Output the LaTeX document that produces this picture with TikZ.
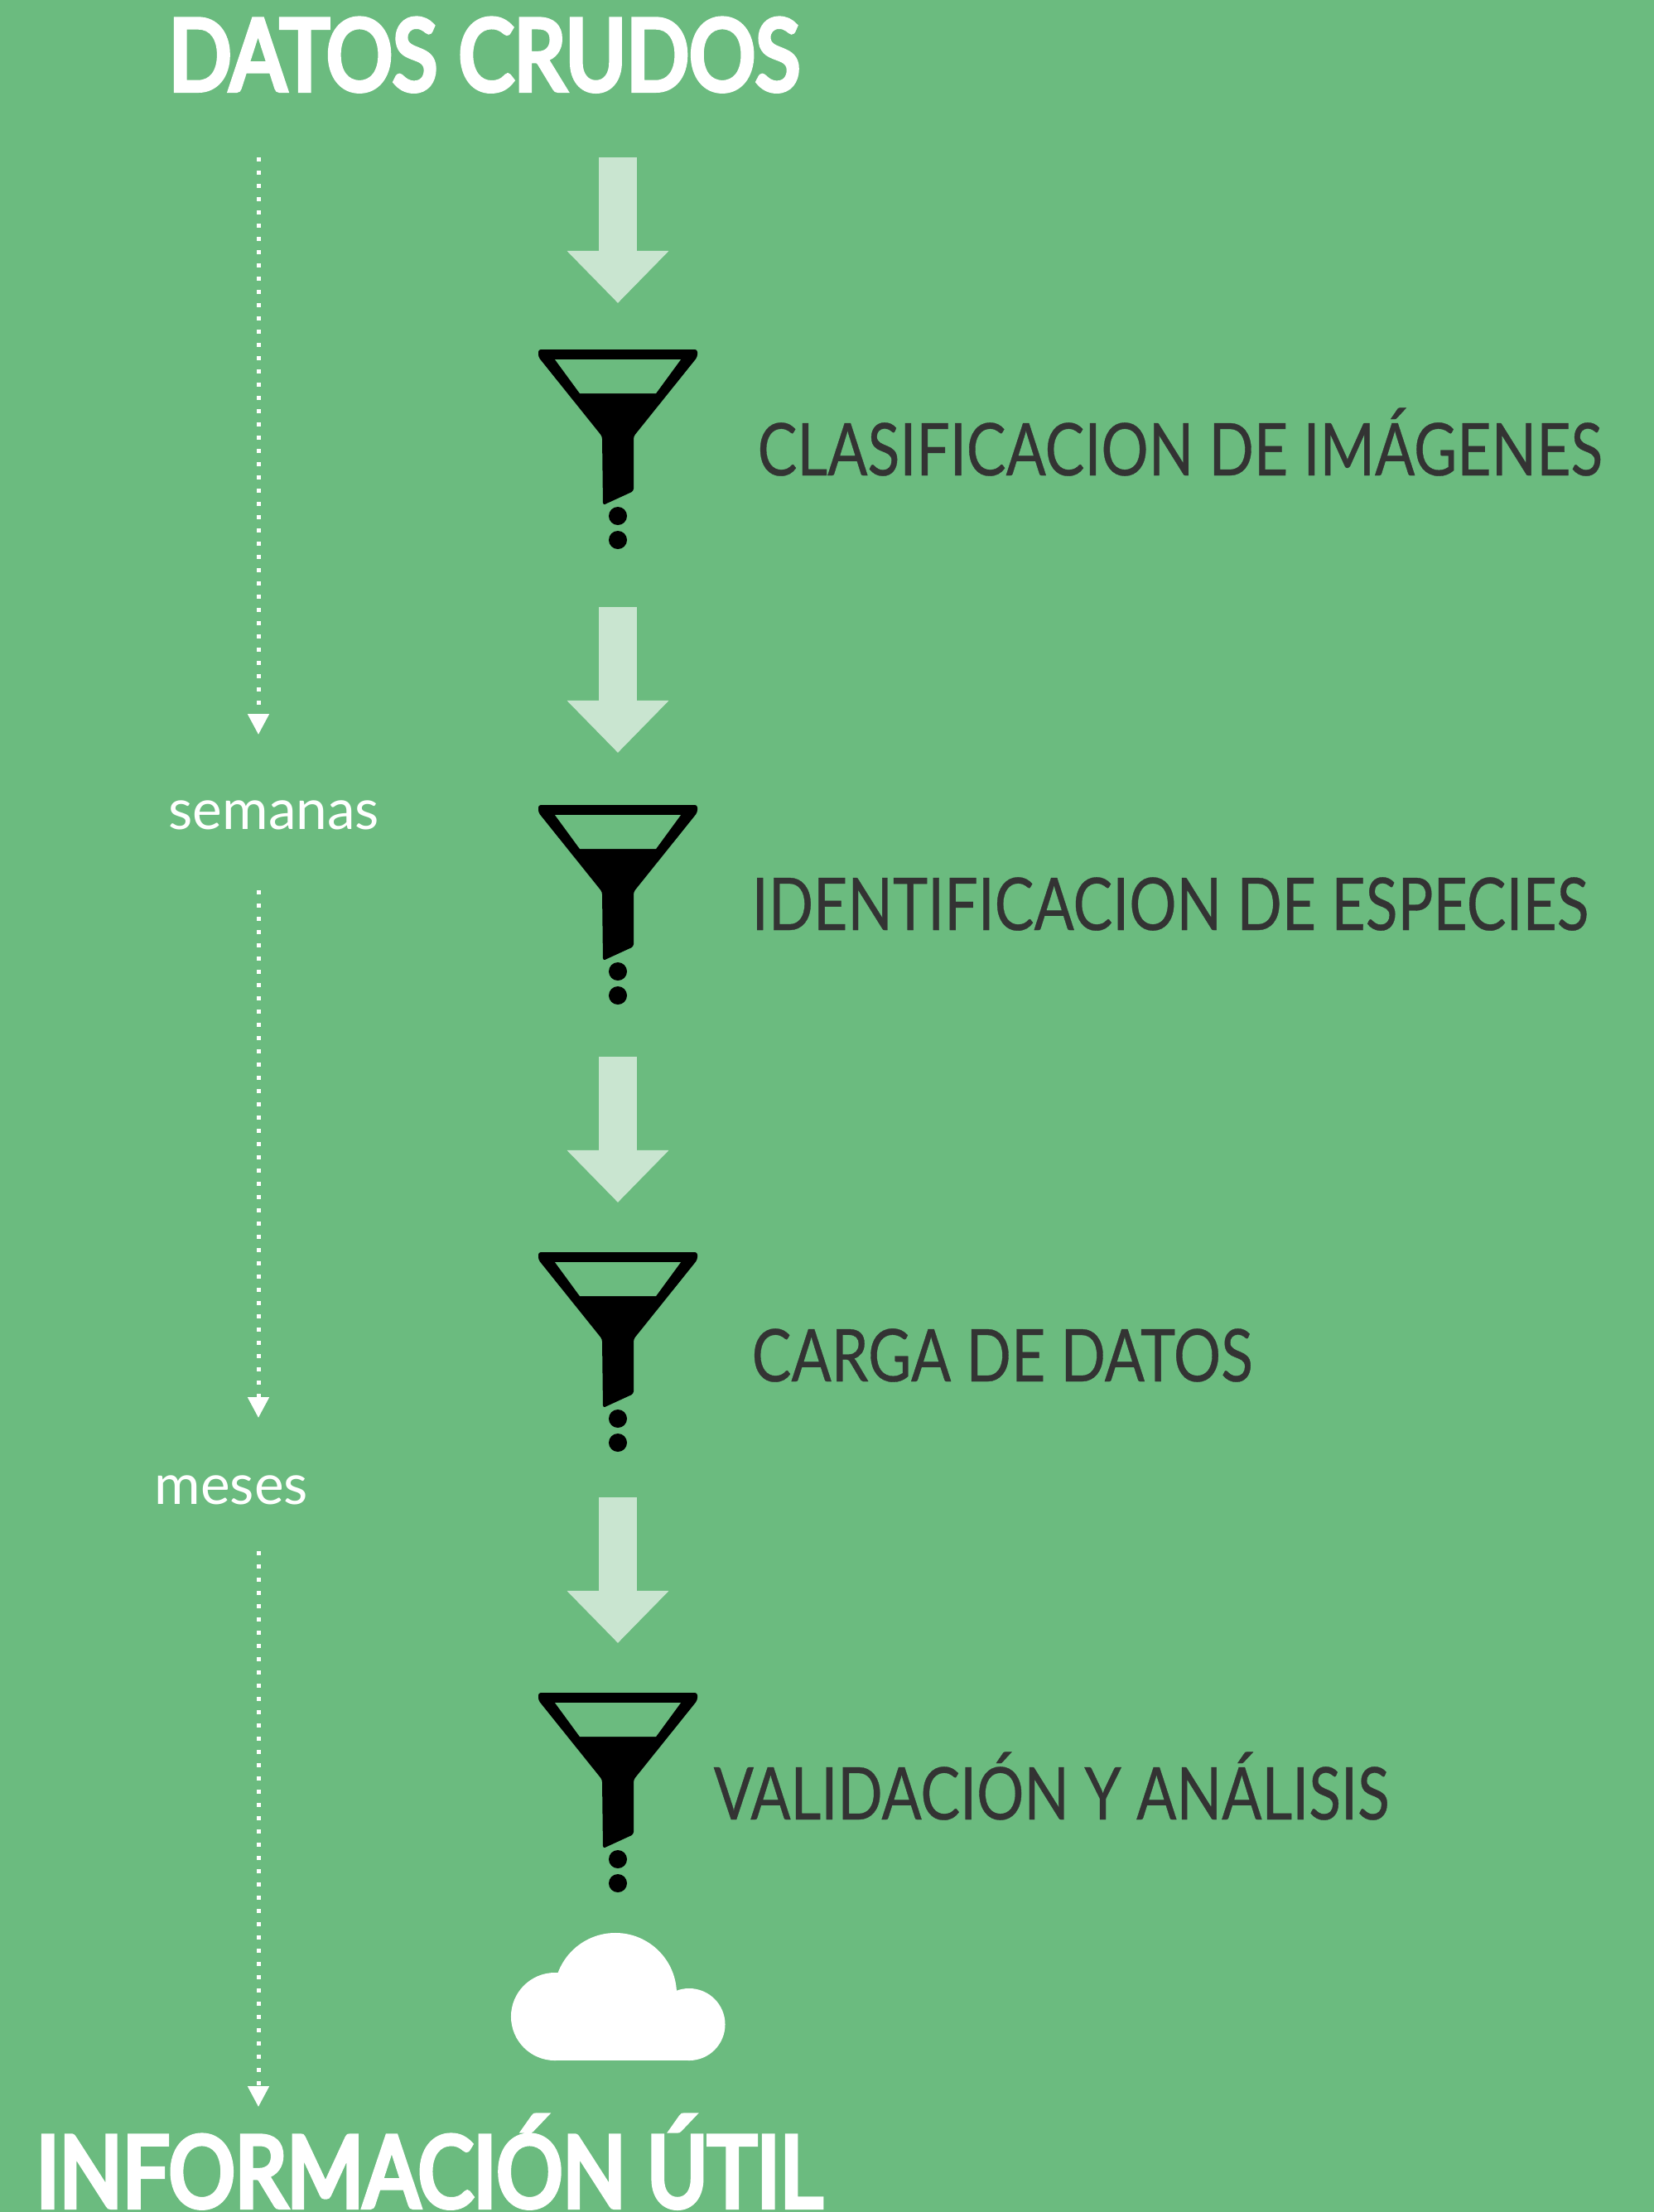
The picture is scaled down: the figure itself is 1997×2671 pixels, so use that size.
\documentclass[tikz,border=0pt]{standalone}
\usepackage{fontspec}
\setmainfont{Lato}
\newfontfamily\titlefont[FakeStretch=0.835, FakeBold=5]{Lato}
\newfontfamily\stepfont[FakeStretch=0.813, FakeBold=0.4]{Lato}
\usetikzlibrary{arrows.meta}
\definecolor{bggreen}{HTML}{6BBB7F}
\definecolor{arrowgreen}{HTML}{C9E5D0}
\definecolor{steptext}{HTML}{333333}
\begin{document}
\begin{tikzpicture}[x=0.01cm, y=-0.01cm, inner sep=0mm,
		titlestyle/.style={anchor=base west, text=white, font=\titlefont\fontsize{34}{34}\selectfont},
		stepstyle/.style={anchor=base west, text=steptext, font=\stepfont\fontsize{25}{25}\selectfont},
		timestyle/.style={anchor=base west, text=white, font=\fontsize{19.2}{19.2}\selectfont},
		flowstyle/.style={line width=0.45cm, arrowgreen, -{Triangle[width=1.19cm, length=0.63cm]}},
		timestylearrow/.style={line width=0.05cm, white, dash pattern=on 0.05cm off 0.11cm, -{Triangle[width=0.25cm, length=0.25cm]}},
		funnel/.pic={
			\fill [black, rounded corners=0.03cm]
				(-96,1) -- (96,1) -- (96,10) -- (19,106) -- (19,172) -- (-18,189) -- (-19,106) -- (-96,10) -- cycle;
			\fill [bggreen] (-76,13) -- (76,13) -- (46,54) -- (-46,54) -- cycle;
			\fill [black] (0,202) circle (0.11cm);
			\fill [black] (0,231) circle (0.11cm);
		}]

		\useasboundingbox [fill=bggreen] (0,0) rectangle (1997,2671);

		\node [titlestyle] (datos) at (203,109) {DATOS CRUDOS};
		\node [titlestyle] (info) at (43,2665) {INFORMACIÓN ÚTIL};

		\node [stepstyle] (clasif) at (914,574) {CLASIFICACION DE IMÁGENES};
		\node [stepstyle] (ident) at (907,1123) {IDENTIFICACION DE ESPECIES};
		\node [stepstyle] (carga) at (907,1668) {CARGA DE DATOS};
		\node [stepstyle] (valid) at (861,2197) {VALIDACIÓN Y ANÁLISIS};

		\node [timestyle] (semanas) at (203,1001) {semanas};
		\node [timestyle] (meses) at (186,1816) {meses};

		\pic at (746,421) {funnel};
		\pic at (746,971) {funnel};
		\pic at (746,1511) {funnel};
		\pic at (746,2043) {funnel};

		\coordinate (f1) at (746,190);
		\coordinate (f2) at (746,366);
		\coordinate (f3) at (746,733);
		\coordinate (f4) at (746,909);
		\coordinate (f5) at (746,1276);
		\coordinate (f6) at (746,1452);
		\coordinate (f7) at (746,1808);
		\coordinate (f8) at (746,1984);

		\draw [flowstyle] (f1) -- (f2);
		\draw [flowstyle] (f3) -- (f4);
		\draw [flowstyle] (f5) -- (f6);
		\draw [flowstyle] (f7) -- (f8);

		\coordinate (t1) at (312,190);
		\coordinate (t2) at (312,887);
		\coordinate (t3) at (312,1075);
		\coordinate (t4) at (312,1712);
		\coordinate (t5) at (312,1873);
		\coordinate (t6) at (312,2544);

		\draw [timestylearrow] (t1) -- (t2);
		\draw [timestylearrow] (t3) -- (t4);
		\draw [timestylearrow] (t5) -- (t6);

		\fill [white] (670,2435) circle (0.53cm);
		\fill [white] (743,2408) circle (0.74cm);
		\fill [white] (832,2444.5) circle (0.435cm);
		\fill [white] (670,2430) rectangle (832,2488);
		\end{tikzpicture}
\end{document}
